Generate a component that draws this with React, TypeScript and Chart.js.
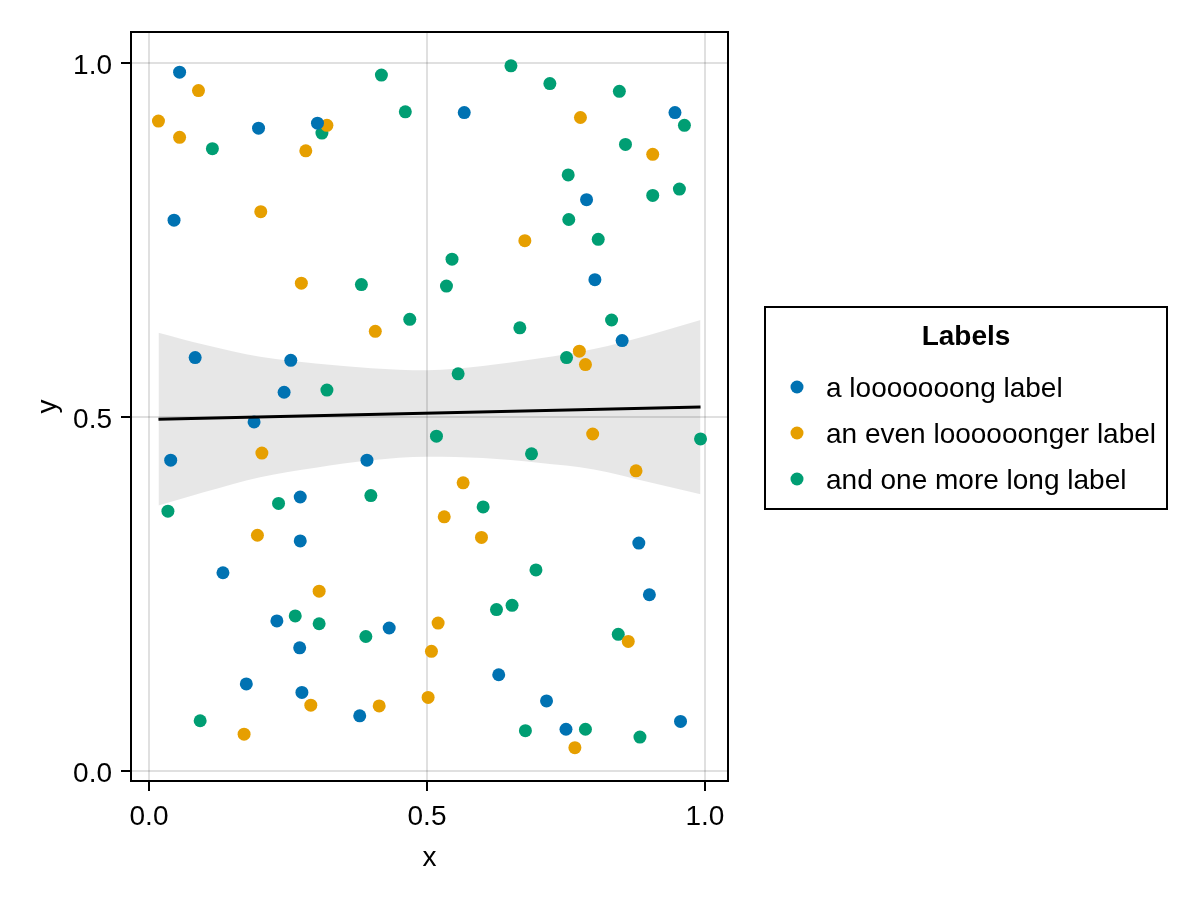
import React, { useEffect, useRef } from "react";
import { Chart, registerables } from "chart.js";

Chart.register(...registerables);

// ---- data ----
const seriesLabels = ["a looooooong label", "an even loooooonger label", "and one more long label"];
const legendTitle = "Labels";
const xTicks = [0, 0.5, 1];
const yTicks = [0, 0.5, 1];

const blueX = [0.055, 0.197, 0.303, 0.045, 0.083, 0.255, 0.243, 0.567, 0.946, 0.787, 0.802, 0.851, 0.189, 0.039, 0.392, 0.272, 0.272, 0.133, 0.230, 0.432, 0.271, 0.175, 0.275, 0.379, 0.881, 0.900, 0.629, 0.715, 0.750, 0.956];
const blueY = [0.987, 0.908, 0.915, 0.778, 0.584, 0.580, 0.535, 0.930, 0.930, 0.807, 0.694, 0.608, 0.493, 0.439, 0.439, 0.387, 0.325, 0.280, 0.212, 0.202, 0.174, 0.123, 0.111, 0.078, 0.322, 0.249, 0.136, 0.099, 0.059, 0.070];

const orangeX = [0.089, 0.017, 0.055, 0.320, 0.282, 0.201, 0.274, 0.407, 0.776, 0.906, 0.676, 0.774, 0.785, 0.203, 0.195, 0.306, 0.291, 0.414, 0.171, 0.798, 0.876, 0.565, 0.531, 0.598, 0.520, 0.508, 0.502, 0.862, 0.766];
const orangeY = [0.961, 0.918, 0.895, 0.912, 0.876, 0.790, 0.689, 0.621, 0.923, 0.871, 0.749, 0.593, 0.574, 0.449, 0.333, 0.254, 0.093, 0.092, 0.052, 0.476, 0.424, 0.407, 0.359, 0.330, 0.209, 0.169, 0.104, 0.183, 0.033];

const greenX = [0.114, 0.311, 0.418, 0.461, 0.382, 0.469, 0.320, 0.651, 0.721, 0.846, 0.963, 0.857, 0.754, 0.954, 0.906, 0.755, 0.808, 0.545, 0.535, 0.667, 0.832, 0.751, 0.556, 0.034, 0.233, 0.399, 0.263, 0.306, 0.390, 0.092, 0.517, 0.688, 0.992, 0.601, 0.696, 0.653, 0.625, 0.844, 0.677, 0.785, 0.883];
const greenY = [0.879, 0.901, 0.983, 0.931, 0.687, 0.638, 0.538, 0.996, 0.971, 0.960, 0.912, 0.885, 0.842, 0.822, 0.813, 0.779, 0.751, 0.723, 0.685, 0.626, 0.637, 0.584, 0.561, 0.367, 0.378, 0.389, 0.219, 0.208, 0.190, 0.071, 0.473, 0.448, 0.469, 0.373, 0.284, 0.234, 0.228, 0.193, 0.057, 0.059, 0.048];

const fitX = [0.017, 0.992];
const fitY = [0.497, 0.514];

const bandX = [0.017, 0.1, 0.2, 0.3, 0.4, 0.5, 0.6, 0.7, 0.8, 0.9, 0.992];
const bandUpper = [0.619, 0.602, 0.585, 0.5755, 0.569, 0.566, 0.572, 0.5825, 0.596, 0.616, 0.637];
const bandLower = [0.375, 0.394, 0.415, 0.4285, 0.439, 0.444, 0.442, 0.4355, 0.426, 0.408, 0.391];

// ---- style ----
const COLORS = ["#0072B2", "#E69F00", "#009E73"];
const FONT = "'Liberation Sans', Arial, Helvetica, sans-serif";
const FS = 28;

const zip = (xs: number[], ys: number[]) => xs.map((x, i) => ({ x, y: ys[i] }));

const framePlugin = {
  id: "frame",
  afterDatasetsDraw(chart: any) {
    const { ctx, chartArea: a } = chart;
    ctx.save();
    ctx.strokeStyle = "#000";
    ctx.lineWidth = 2;
    ctx.strokeRect(a.left, a.top, a.right - a.left, a.bottom - a.top);
    ctx.restore();
  },
};

const legendPlugin = {
  id: "boxLegend",
  afterDraw(chart: any) {
    const { ctx } = chart;
    const items = chart.data.datasets.filter((d: any) => d.isSeries);
    ctx.save();
    ctx.strokeStyle = "#000";
    ctx.lineWidth = 2;
    ctx.strokeRect(765, 307, 402, 202);
    ctx.fillStyle = "#000";
    ctx.textBaseline = "middle";
    ctx.textAlign = "center";
    ctx.font = `bold ${FS}px ${FONT}`;
    ctx.fillText(legendTitle, 966, 337);
    ctx.font = `${FS}px ${FONT}`;
    ctx.textAlign = "left";
    const rows = [387, 433, 479];
    items.forEach((d: any, i: number) => {
      ctx.fillStyle = d.backgroundColor;
      ctx.beginPath();
      ctx.arc(797, rows[i], 6.5, 0, Math.PI * 2);
      ctx.fill();
      ctx.fillStyle = "#000";
      ctx.fillText(d.label, 826, rows[i] + 2);
    });
    ctx.restore();
  },
};

export default function App() {
  const ref = useRef<HTMLCanvasElement>(null);
  useEffect(() => {
    document.body.style.margin = "0";
    const canvas = ref.current;
    if (!canvas) return;
    const scatterSets = [
      zip(blueX, blueY),
      zip(orangeX, orangeY),
      zip(greenX, greenY),
    ].map((data, i) => ({
      type: "scatter" as const,
      label: seriesLabels[i],
      isSeries: true,
      data,
      backgroundColor: COLORS[i],
      borderWidth: 0,
      pointRadius: 6.5,
      pointHoverRadius: 6.5,
      order: 1,
    }));
    const chart = new Chart(canvas, {
      type: "scatter",
      data: {
        datasets: [
          {
            type: "line",
            label: "band upper",
            data: zip(bandX, bandUpper),
            borderWidth: 0,
            borderColor: "rgba(0,0,0,0)",
            backgroundColor: "rgba(0,0,0,0.095)",
            pointRadius: 0,
            fill: "+1",
            tension: 0.4,
            cubicInterpolationMode: "monotone",
            order: 3,
          } as any,
          {
            type: "line",
            label: "band lower",
            data: zip(bandX, bandLower),
            borderWidth: 0,
            borderColor: "rgba(0,0,0,0)",
            backgroundColor: "rgba(0,0,0,0)",
            pointRadius: 0,
            fill: false,
            tension: 0.4,
            cubicInterpolationMode: "monotone",
            order: 3,
          } as any,
          ...scatterSets,
          {
            type: "line",
            label: "fit",
            data: zip(fitX, fitY),
            borderColor: "#000",
            borderWidth: 3,
            pointRadius: 0,
            fill: false,
            order: 0,
          } as any,
        ],
      },
      options: {
        animation: false,
        responsive: false,
        devicePixelRatio: 1,
        layout: { padding: { left: 0, top: 32, right: 472, bottom: 0 } },
        plugins: { legend: { display: false }, tooltip: { enabled: false } },
        scales: {
          x: {
            type: "linear",
            min: -0.0324,
            max: 1.0414,
            afterFit: (s: any) => { s.height = 119; },
            afterBuildTicks: (s: any) => { s.ticks = xTicks.map((v) => ({ value: v })); },
            border: { display: false },
            grid: { color: "rgba(0,0,0,0.12)", lineWidth: 2, tickColor: "#000", tickWidth: 2, tickLength: 10 },
            ticks: {
              color: "#000",
              font: { family: FONT, size: FS },
              padding: 9,
              maxRotation: 0,
              callback: (v: any) => Number(v).toFixed(1),
            },
            title: { display: true, text: "x", color: "#000", font: { family: FONT, size: FS }, padding: { top: 0, bottom: 25 } },
          },
          y: {
            type: "linear",
            min: -0.0141,
            max: 1.0438,
            afterFit: (s: any) => { s.width = 131; },
            afterBuildTicks: (s: any) => { s.ticks = yTicks.map((v) => ({ value: v })); },
            border: { display: false },
            grid: { color: "rgba(0,0,0,0.12)", lineWidth: 2, tickColor: "#000", tickWidth: 2, tickLength: 10 },
            ticks: {
              color: "#000",
              font: { family: FONT, size: FS },
              padding: 9,
              labelOffset: 3,
              callback: (v: any) => Number(v).toFixed(1),
            },
            title: { display: true, text: "y", color: "#000", font: { family: FONT, size: FS }, padding: { top: 31, bottom: 0 } },
          },
        },
      } as any,
      plugins: [framePlugin, legendPlugin],
    });
    return () => chart.destroy();
  }, []);
  return (
    <div style={{ position: "absolute", left: 0, top: 0, width: 1200, height: 900, background: "#fff" }}>
      <canvas ref={ref} width={1200} height={900} style={{ width: 1200, height: 900 }} />
    </div>
  );
}
